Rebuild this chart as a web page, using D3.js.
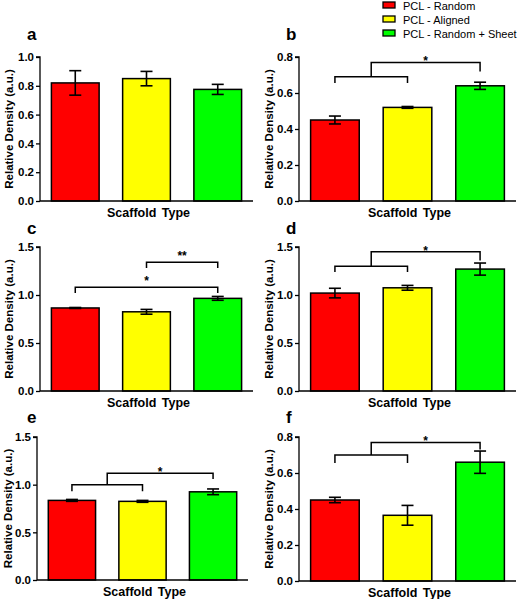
<!DOCTYPE html>
<html><head><meta charset="utf-8">
<script src="https://cdn.jsdelivr.net/npm/d3@7"></script>
<style>body{margin:0;background:#fff}svg{display:block}text{font-family:"Liberation Sans",Arial,sans-serif}</style>
</head><body>
<svg id="c" width="520" height="599"></svg>
<script>
const categories = ["PCL - Random", "PCL - Aligned", "PCL - Random + Sheet"];
const panelLabels = ["a", "b", "c", "d", "e", "f"];
const meansA = [0.82, 0.85, 0.775], errA = [0.085, 0.05, 0.035];
const meansB = [0.45, 0.52, 0.64],  errB = [0.022, 0.005, 0.02];
const meansC = [0.865, 0.825, 0.965], errC = [0.005, 0.025, 0.02];
const meansD = [1.02, 1.075, 1.27],  errD = [0.05, 0.025, 0.063];
const meansE = [0.835, 0.825, 0.925], errE = [0.01, 0.01, 0.03];
const meansF = [0.45, 0.365, 0.66],  errF = [0.015, 0.055, 0.062];
const yMaxes = [1.0, 0.8, 1.5, 1.5, 1.5, 0.8];
const tickSteps = [0.2, 0.2, 0.5, 0.5, 0.5, 0.2];
// grouped brackets: [lower level, lower drop, upper level, upper drop, label]
const groupBrackets = { b: [0.69, 0.655, 0.77, 0.72, "*"], d: [1.30, 1.24, 1.45, 1.36, "*"],
                        e: [1.00, 0.93, 1.12, 1.06, "*"], f: [0.70, 0.655, 0.77, 0.73, "*"] };
// simple brackets: [from, to, level, drop, label]
const simpleBracketsC = [[1, 2, 1.34, 1.28, "**"], [0, 2, 1.08, 1.02, "*"]];
const yTitle = "Relative Density (a.u.)";
const xTitle = "Scaffold Type";

const means = [meansA, meansB, meansC, meansD, meansE, meansF];
const errs = [errA, errB, errC, errD, errE, errF];
const colors = ["#ff0000", "#ffff00", "#00ff00"];
const geom = [
  {l: 40, r: 253, t: 57, b: 201, lx: 27, ly: 40, tx: 13},
  {l: 299, r: 516, t: 57, b: 201, lx: 286, ly: 40, tx: 273},
  {l: 40, r: 253, t: 247, b: 391, lx: 27, ly: 234, tx: 13},
  {l: 299, r: 516, t: 247, b: 391, lx: 286, ly: 234, tx: 273},
  {l: 37, r: 248, t: 437, b: 580, lx: 27, ly: 423, tx: 12},
  {l: 299, r: 516, t: 437, b: 581, lx: 286, ly: 423, tx: 273}
];
const svg = d3.select("#c");

panelLabels.forEach((p, i) => {
  const g = geom[i];
  const gp = svg.append("g");
  const x = d3.scaleBand().domain(categories).range([g.l, g.r]).paddingInner(0.33).paddingOuter(0.16);
  const y = d3.scaleLinear().domain([0, yMaxes[i]]).range([g.b, g.t]);
  const ticks = d3.range(0, yMaxes[i] + 1e-9, tickSteps[i]);
  const ax = gp.append("g").attr("transform", `translate(${g.l},0)`)
    .call(d3.axisLeft(y).tickValues(ticks).tickFormat(d3.format(".1f")).tickSize(4).tickPadding(2));
  ax.select(".domain").attr("stroke", "#000").attr("stroke-width", 1.3).attr("d", `M-4,${g.t}H0V${g.b}`);
  ax.selectAll(".tick line").attr("stroke-width", 1.3);
  ax.selectAll(".tick text").attr("font-size", 11.5).attr("font-weight", "bold").attr("fill", "#000");
  const data = categories.map((c, k) => ({c, m: means[i][k], e: errs[i][k], k}));
  gp.selectAll("rect.bar").data(data).join("rect").attr("class", "bar")
    .attr("x", d => x(d.c)).attr("width", x.bandwidth())
    .attr("y", d => y(d.m)).attr("height", d => y(0) - y(d.m))
    .attr("fill", d => colors[d.k]).attr("stroke", "#000").attr("stroke-width", 1.5);
  gp.append("line").attr("x1", g.l).attr("x2", g.r).attr("y1", g.b).attr("y2", g.b)
    .attr("stroke", "#000").attr("stroke-width", 1.3);
  const eb = gp.selectAll("g.eb").data(data).join("g").attr("class", "eb")
    .attr("stroke", "#000").attr("stroke-width", 1.6);
  eb.append("line").attr("x1", d => x(d.c) + x.bandwidth() / 2).attr("x2", d => x(d.c) + x.bandwidth() / 2)
    .attr("y1", d => y(d.m - d.e)).attr("y2", d => y(d.m + d.e));
  [1, -1].forEach(s => eb.append("line")
    .attr("x1", d => x(d.c) + x.bandwidth() / 2 - 6).attr("x2", d => x(d.c) + x.bandwidth() / 2 + 6)
    .attr("y1", d => y(d.m + s * d.e)).attr("y2", d => y(d.m + s * d.e)));
  const cx = k => x(categories[k]) + x.bandwidth() / 2;
  const br = gp.append("g").attr("fill", "none").attr("stroke", "#000").attr("stroke-width", 1.5);
  const star = (xp, yv, lab) => gp.append("text").attr("x", xp).attr("y", y(yv) - 3)
    .attr("text-anchor", "middle").attr("font-size", 12).attr("font-weight", "bold").text(lab);
  if (groupBrackets[p]) {
    const [lo, lod, up, upd, lab] = groupBrackets[p];
    br.append("path").attr("d", `M${cx(0)},${y(lod)}V${y(lo)}H${cx(1)}V${y(lod)}`);
    const mid = (cx(0) + cx(1)) / 2;
    br.append("path").attr("d", `M${mid},${y(lo)}V${y(up)}H${cx(2)}V${y(upd)}`);
    star((mid + cx(2)) / 2, up, lab).attr("dy", 6);
  }
  if (p === "c") {
    simpleBracketsC.forEach(([f, t, lv, dr, lab]) => {
      br.append("path").attr("d", `M${cx(f)},${y(dr)}V${y(lv)}H${cx(t)}V${y(dr)}`);
      star((cx(f) + cx(t)) / 2, lv, lab).attr("dy", 1);
    });
  }
  gp.append("text").attr("x", (g.l + g.r) / 2 + 2).attr("y", g.b + 16).attr("text-anchor", "middle")
    .attr("font-size", 12.5).attr("font-weight", "bold").attr("word-spacing", 2).text(xTitle);
  gp.append("text").attr("transform", `translate(${g.tx},${(g.t + g.b) / 2}) rotate(-90)`)
    .attr("text-anchor", "middle").attr("font-size", 11.5).attr("font-weight", "bold").text(yTitle);
  gp.append("text").attr("x", g.lx).attr("y", g.ly).attr("font-size", 17).attr("font-weight", "bold").text(p);
});

const lg = svg.append("g");
categories.forEach((c, k) => {
  lg.append("rect").attr("x", 383).attr("y", 2 + k * 14).attr("width", 12).attr("height", 6)
    .attr("fill", colors[k]).attr("stroke", "#000").attr("stroke-width", 1.3);
  lg.append("text").attr("x", 403).attr("y", 9.5 + k * 14).attr("font-size", 11).attr("fill", "#000").text(c);
});
</script>
</body></html>
